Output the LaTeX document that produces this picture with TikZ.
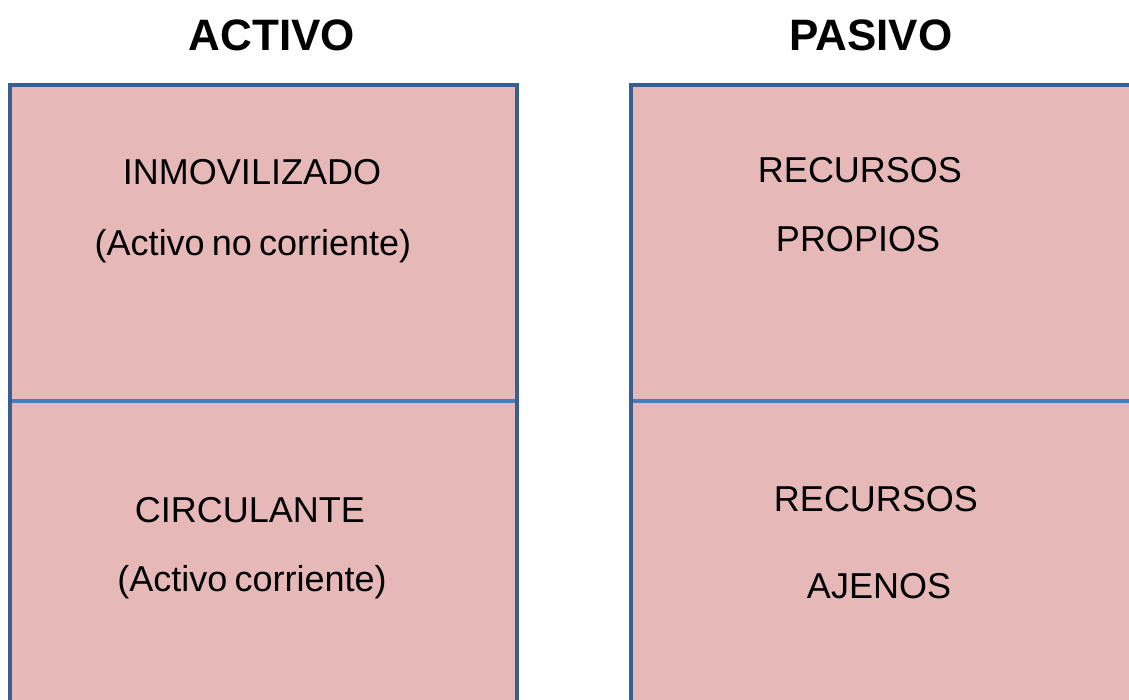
\documentclass[tikz,border=0pt]{standalone}
\usepackage{fontspec}
\setmainfont{Liberation Sans}

\tikzstyle{block-fill}=[fill=BalanceFill]
\tikzstyle{block-edge}=[draw=BalanceEdge, line width=3.5pt]
\tikzstyle{block-split}=[draw=BalanceSplit, line width=3.5pt]
\tikzstyle{heading}=[anchor=base, inner sep=0pt, font=\fontsize{44}{44}\selectfont\bfseries]
\tikzstyle{entry}=[anchor=base, inner sep=0pt, font=\fontsize{36}{36}\selectfont]
\definecolor{BalanceFill}{HTML}{E6B9B8}
\definecolor{BalanceEdge}{HTML}{3A5F8F}
\definecolor{BalanceSplit}{HTML}{4A7EBB}

\begin{document}
\begin{tikzpicture}[x=1pt, y=-1pt]
      \useasboundingbox (0,0) rectangle (1129,699);
      \clip (0,0) rectangle (1129,699);

      % activo
      \fill[block-fill] (10,85) rectangle (517,760);
      \draw[block-split] (10,401) -- (517,401);
      \draw[block-edge] (10,85) rectangle (517,760);

      % pasivo
      \fill[block-fill] (631,85) rectangle (1200,760);
      \draw[block-split] (631,401) -- (1200,401);
      \draw[block-edge] (631,85) rectangle (1200,760);

      \node (title:activo) at (272,50) [heading] {ACTIVO};
      \node (title:pasivo) at (871,50) [heading] {PASIVO};

      \node (activo:fijo) at (252,184.5) [entry] {INMOVILIZADO};
      \node (activo:fijo-sub) at (253,255.5) [entry] {(Activo\hspace{0.2em}no\hspace{0.2em}corriente)};
      \node (activo:circ) at (250,522.5) [entry] {CIRCULANTE};
      \node (activo:circ-sub) at (252,591.5) [entry] {(Activo\hspace{0.2em}corriente)};

      \node (pasivo:propios) at (860,182.5) [entry] {RECURSOS};
      \node (pasivo:propios-sub) at (858,251.5) [entry] {PROPIOS};
      \node (pasivo:ajenos) at (876,511.5) [entry] {RECURSOS};
      \node (pasivo:ajenos-sub) at (879,598.5) [entry] {AJENOS};
    \end{tikzpicture}
\end{document}
